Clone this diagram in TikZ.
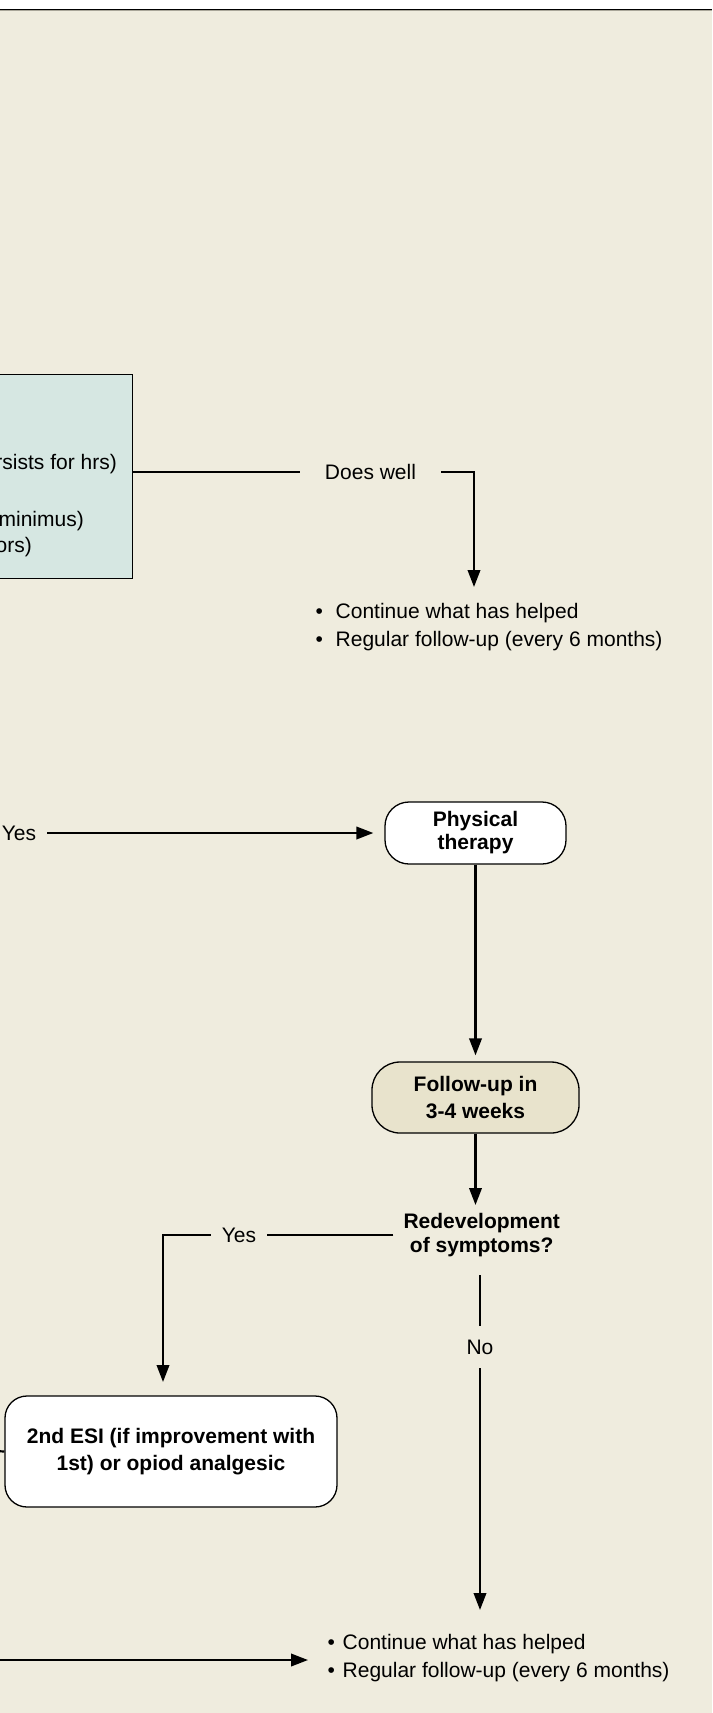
\documentclass[tikz,border=0pt]{standalone}
\usepackage{fontspec}
\setmainfont{Liberation Sans}
\usetikzlibrary{arrows.meta}
\definecolor{bgc}{HTML}{EFECDE}
\definecolor{tealc}{HTML}{D6E7E2}
\definecolor{fuc}{HTML}{E8E3CC}
\definecolor{rulegray}{HTML}{A9A699}
\begin{document}
\begin{tikzpicture}[x=1pt,y=-1pt,
  conn/.style={line width=2.2pt},
  arr/.style={line width=2.2pt,-{Triangle[length=17pt,width=12.5pt]}},
  rbox/.style={draw, line width=1.3pt, align=center, inner sep=0pt,
    font=\bfseries\fontsize{21}{23}\selectfont},
  lbl/.style={font=\fontsize{21}{25}\selectfont, inner sep=0pt},
  blist/.style={font=\fontsize{21}{28}\selectfont, inner sep=0pt, align=left, anchor=west},
]
\useasboundingbox (0,0) rectangle (712,1713);
\clip (0,0) rectangle (712,1713);
\fill[white] (0,0) rectangle (712,9);
\fill[bgc] (0,9) rectangle (712,1713);
\draw[line width=1.6pt] (0,9.4) -- (712,9.4);
\draw[rulegray, line width=0.9pt] (0,10.7) -- (712,10.7);

% teal box (clipped at left)
\node[draw, fill=tealc, line width=1.3pt, anchor=north east,
  minimum width=170pt, minimum height=204pt, inner sep=0pt] (box) at (133,374) {};
\node[lbl, anchor=east] (tb1) at (117,464) {rsists for hrs)};
\node[lbl, anchor=east] (tb2) at (84,521) {minimus)};
\node[lbl, anchor=east] (tb3) at (32,547) {ors)};

% Does well
\node[lbl, inner xsep=25pt] (dw) at (370.5,472) {Does well};
\draw[conn] (box.east |- dw.west) -- (dw.west);
\coordinate (t1) at (474,587);
\draw[arr] (dw.east) -| (t1);
\node[blist] (b1) at (315.5,627) {\makebox[20pt][l]{•}Continue what has helped\\
  \makebox[20pt][l]{•}Regular follow-up (every 6 months)};

% Yes -> Physical therapy
\node[lbl, inner xsep=11pt] (yes1) at (19,833) {Yes};
\node[rbox, fill=white, rounded corners=24pt, minimum width=181pt, minimum height=62pt] (pt)
  at (475.5,833) {Physical\\therapy};
\draw[arr, shorten >=11pt] (yes1.east) -- (pt.west);

% Follow-up
\node[rbox, fill=fuc, rounded corners=28pt, minimum width=207pt, minimum height=71pt,
  font=\bfseries\fontsize{21}{27}\selectfont] (fu) at (475.5,1097.5) {Follow-up in\\3-4 weeks};
\draw[arr, shorten >=6pt] (pt.south) -- (fu.north);

% Redevelopment
\node[lbl, font=\bfseries\fontsize{21}{24}\selectfont, align=center, inner xsep=10pt]
  (rd) at (481.7,1235) {Redevelopment\\of symptoms?};
\draw[arr] (fu.south) -- (fu.south |- 0,1205);

% Yes branch
\node[lbl, inner xsep=11pt] (yes2) at (239,1235) {Yes};
\draw[conn] (rd.west) -- (yes2.east);
\coordinate (t2) at (163,1382);
\draw[arr] (yes2.west) -| (t2);
\node[rbox, fill=white, rounded corners=22pt, minimum width=332pt, minimum height=111pt,
  font=\bfseries\fontsize{21}{27}\selectfont] (esi) at (171,1451.5)
  {2nd ESI (if improvement with\\1st) or opiod analgesic};
\coordinate (e0) at (-5,1451);
\draw[conn] (e0) -- (esi.west);

% No branch
\node[lbl, inner ysep=13.5pt] (no) at (480,1347) {No};
\coordinate (n0) at (480,1275);
\draw[conn] (n0) -- (no.north);
\coordinate (t3) at (480,1610);
\draw[arr] (no.south) -- (t3);
\node[blist] (b2) at (327.5,1658) {\makebox[15pt][l]{•}Continue what has helped\\
  \makebox[15pt][l]{•}Regular follow-up (every 6 months)};
\coordinate (l0) at (-5,1660);
\draw[arr, shorten >=19.5pt] (l0) -- (l0 -| b2.west);
\end{tikzpicture}
\end{document}
